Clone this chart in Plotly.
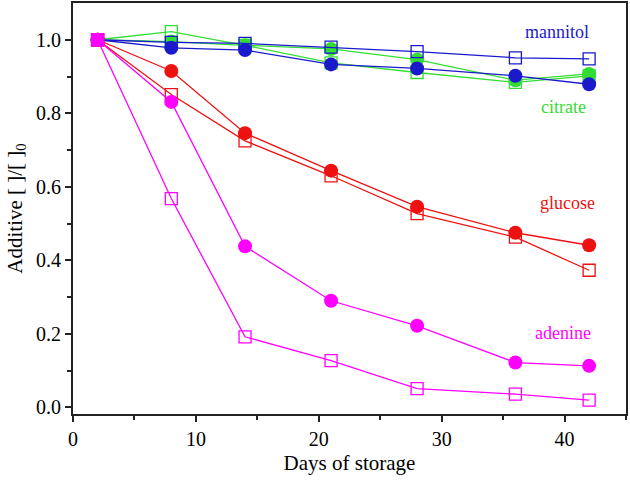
import plotly.graph_objects as go

days = [2, 8, 14, 21, 28, 36, 42]

mannitol_filled = [1.0, 0.978, 0.972, 0.933, 0.922, 0.902, 0.879]
mannitol_open = [1.0, 0.993, 0.990, 0.980, 0.968, 0.951, 0.948]
citrate_filled = [1.0, 0.995, 0.985, 0.975, 0.946, 0.890, 0.907]
citrate_open = [1.0, 1.022, 0.985, 0.937, 0.911, 0.884, 0.902]
glucose_filled = [1.0, 0.915, 0.746, 0.644, 0.546, 0.475, 0.441]
glucose_open = [1.0, 0.851, 0.725, 0.630, 0.527, 0.463, 0.373]
adenine_filled = [1.0, 0.831, 0.438, 0.290, 0.222, 0.122, 0.113]
adenine_open = [1.0, 0.568, 0.192, 0.127, 0.051, 0.036, 0.020]

labels = ["mannitol", "citrate", "glucose", "adenine"]
label_x = [39.4, 39.9, 40.2, 39.9]
label_y = [1.021, 0.818, 0.557, 0.202]

BLUE = "#1a1acc"
GREEN = "#33dd33"
RED = "#ee1111"
MAG = "#ff00ff"
colors = [BLUE, GREEN, RED, MAG]

fig = go.Figure()

series = [
    (citrate_filled, GREEN, "filled"),
    (citrate_open, GREEN, "open"),
    (mannitol_filled, BLUE, "filled"),
    (mannitol_open, BLUE, "open"),
    (glucose_filled, RED, "filled"),
    (glucose_open, RED, "open"),
    (adenine_filled, MAG, "filled"),
    (adenine_open, MAG, "open"),
]

for vals, col, kind in series:
    if kind == "filled":
        marker = dict(symbol="circle", size=14, color=col, line=dict(width=0))
    else:
        marker = dict(symbol="square-open", size=12, color=col, line=dict(width=1.3, color=col))
    fig.add_trace(go.Scatter(
        x=days, y=vals, mode="lines+markers",
        line=dict(color=col, width=1.3),
        marker=marker, showlegend=False,
    ))

for lab, lx, ly, col in zip(labels, label_x, label_y, colors):
    fig.add_annotation(x=lx, y=ly, text=lab, showarrow=False,
                       font=dict(family="Liberation Serif", size=18, color=col))

axis_common = dict(
    showline=True, linecolor="#222", linewidth=1.8, mirror=True,
    ticks="outside", ticklen=6, tickwidth=1.5, tickcolor="#222",
    showgrid=False, zeroline=False, automargin=False,
    tickfont=dict(family="Liberation Serif", size=20, color="black"),
)

fig.update_xaxes(range=[0, 45], tickvals=[0, 10, 20, 30, 40],
                 minor=dict(tickvals=[5, 15, 25, 35, 45], ticklen=4, tickwidth=1.5, tickcolor="#222", ticks="outside"),
                 title=dict(text="Days of storage", font=dict(family="Liberation Serif", size=21, color="black"), standoff=6),
                 **axis_common)
fig.update_yaxes(range=[-0.018, 1.10], tickvals=[0.0, 0.2, 0.4, 0.6, 0.8, 1.0], tickformat=".1f",
                 minor=dict(tickvals=[0.1, 0.3, 0.5, 0.7, 0.9], ticklen=4, tickwidth=1.5, tickcolor="#222", ticks="outside"),
                 title=dict(text="Additive [ ]/[ ]<sub>0</sub>", font=dict(family="Liberation Serif", size=21, color="black"), standoff=8),
                 **axis_common)

fig.update_layout(
    width=630, height=483,
    margin=dict(l=73, r=4, t=3, b=69),
    plot_bgcolor="white", paper_bgcolor="white",
)

fig.write_html("out.html", config={"displayModeBar": False},
               post_script="document.body.style.margin='0';document.body.style.overflow='hidden';")
